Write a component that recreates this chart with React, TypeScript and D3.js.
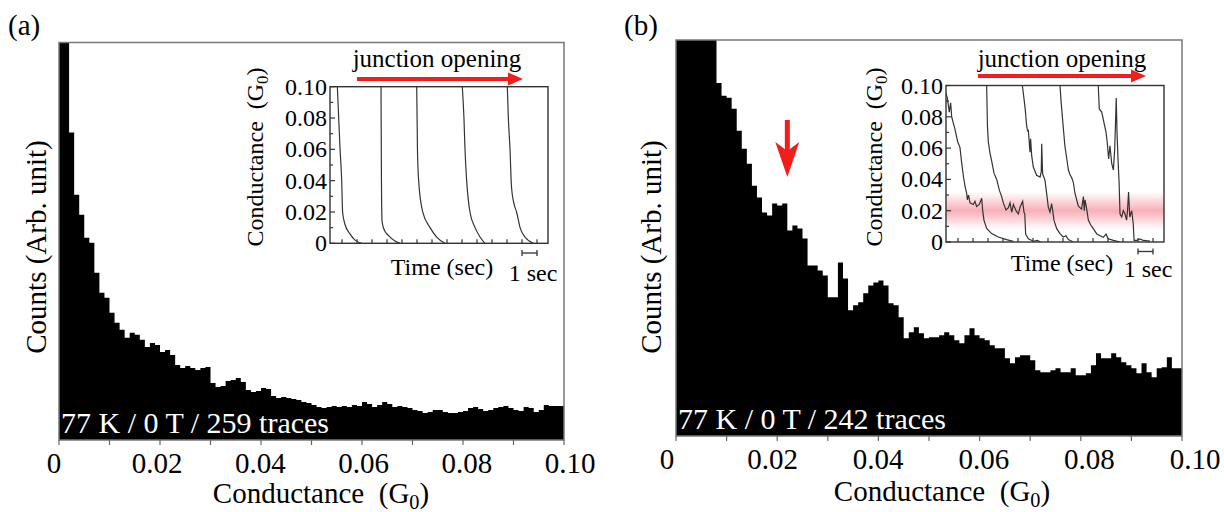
import React from "react";
import * as d3 from "d3";

// ---------- data ----------
const BIN = 0.001; // G0 per histogram bin
const countsA = [
  520, 460, 307, 245, 225, 202, 197, 167, 147, 142,
  127, 117, 110, 102, 107, 105, 100, 93, 97, 95,
  88, 90, 85, 75, 72, 74, 72, 70, 72, 73,
  57, 53, 54, 59, 60, 62, 58, 50, 48, 49,
  52, 51, 44, 42, 43, 42, 41, 40, 38, 37,
  35, 33, 32, 33, 34, 33, 34, 33, 35, 34,
  38, 36, 33, 35, 38, 36, 33, 34, 33, 32,
  30, 29, 27, 28, 30, 30, 28, 27, 27, 28,
  29, 32, 33, 31, 29, 30, 32, 33, 34, 32,
  30, 29, 33, 32, 28, 30, 35, 34, 34, 34,
];
const countsB = [
  520, 520, 510, 500, 480, 460, 440, 420, 354, 341,
  339, 328, 306, 288, 273, 251, 239, 224, 221, 233,
  231, 233, 206, 211, 208, 198, 171, 171, 166, 161,
  139, 139, 174, 158, 126, 131, 134, 143, 151, 154,
  156, 151, 133, 131, 119, 98, 104, 109, 103, 98,
  99, 99, 101, 104, 101, 96, 93, 101, 108, 101,
  98, 96, 91, 88, 88, 78, 73, 79, 81, 81,
  76, 66, 64, 64, 66, 68, 64, 64, 68, 61,
  61, 63, 71, 83, 78, 78, 83, 79, 74, 71,
  68, 63, 73, 64, 59, 68, 69, 79, 68, 68,
];
const xTickLabels = ["0", "0.02", "0.04", "0.06", "0.08", "0.10"];
const insetYLabels = ["0", "0.02", "0.04", "0.06", "0.08", "0.10"];
const summaryA = "77 K / 0 T / 259 traces";
const summaryB = "77 K / 0 T / 242 traces";
const markedPeakB = 0.022;

// inset traces: [time (s), conductance (G0)]
const tracesA: [number, number][][] = [
  [[0.69, 0.1], [0.87, 0.06], [0.98, 0.04], [1.04, 0.02], [1.2, 0.012], [1.53, 0.006], [1.87, 0.002], [2.31, 0]],
  [[3.6, 0.1], [3.63, 0.04], [3.67, 0.014], [3.8, 0.009], [4.09, 0.005], [4.53, 0.0015], [4.87, 0]],
  [[5.98, 0.1], [6.03, 0.06], [6.11, 0.04], [6.38, 0.02], [6.87, 0.01], [7.31, 0.004], [7.87, 0]],
  [[9.02, 0.1], [9.13, 0.08], [9.2, 0.06], [9.31, 0.04], [9.53, 0.02], [9.87, 0.01], [10.2, 0.004], [10.53, 0]],
  [[12.02, 0.1], [12.09, 0.08], [12.2, 0.06], [12.3, 0.036], [12.5, 0.024], [12.64, 0.02], [12.87, 0.01], [13.2, 0.004], [13.76, 0]],
];
const tracesB: [number, number][][] = [
  [[0.2, 0.095], [0.29, 0.092], [0.42, 0.083], [0.51, 0.089], [0.58, 0.08], [0.8, 0.072], [0.98, 0.064], [1.13, 0.0605], [1.24, 0.051], [1.36, 0.042], [1.47, 0.0356], [1.58, 0.031], [1.62, 0.027], [1.7, 0.03], [1.8, 0.025], [2.02, 0.024], [2.13, 0.026], [2.24, 0.0227], [2.42, 0.024], [2.58, 0.028], [2.64, 0.0205], [2.73, 0.014], [2.91, 0.0086], [3.24, 0.0054], [3.69, 0.0032], [4.24, 0.0015], [4.69, 0.0004]],
  [[2.91, 0.1], [2.96, 0.075], [3.02, 0.064], [3.13, 0.057], [3.24, 0.052], [3.4, 0.044], [3.58, 0.04], [3.76, 0.033], [3.91, 0.029], [4.02, 0.025], [4.2, 0.0205], [4.36, 0.022], [4.47, 0.025], [4.58, 0.019], [4.69, 0.024], [4.87, 0.02], [5.02, 0.018], [5.13, 0.022], [5.31, 0.026], [5.4, 0.019], [5.45, 0.018], [5.51, 0.005], [5.69, 0.002], [6.02, 0.0005], [6.3, 0.001], [6.5, 0]],
  [[5.29, 0.1], [5.47, 0.086], [5.58, 0.074], [5.64, 0.071], [5.69, 0.0713], [5.8, 0.0574], [5.84, 0.066], [5.91, 0.0553], [6.02, 0.0479], [6.24, 0.0426], [6.47, 0.0415], [6.55, 0.045], [6.58, 0.0628], [6.64, 0.0436], [6.8, 0.0394], [6.91, 0.0309], [7.02, 0.0223], [7.13, 0.0191], [7.24, 0.0245], [7.31, 0.0202], [7.4, 0.0138], [7.58, 0.0085], [7.8, 0.0053], [8.02, 0.0032], [8.2, 0.004], [8.36, 0.0015], [8.69, 0]],
  [[7.8, 0.1], [7.87, 0.09], [8.02, 0.073], [8.13, 0.061], [8.24, 0.054], [8.36, 0.046], [8.47, 0.043], [8.58, 0.041], [8.69, 0.038], [8.8, 0.031], [8.91, 0.027], [9.02, 0.023], [9.13, 0.022], [9.24, 0.021], [9.36, 0.029], [9.42, 0.02], [9.47, 0.027], [9.58, 0.021], [9.69, 0.014], [9.84, 0.011], [10.02, 0.0085], [10.24, 0.0053], [10.47, 0.004], [10.69, 0.003], [10.87, 0.005], [11.02, 0.002], [11.36, 0.001], [11.8, 0]],
  [[10.35, 0.1], [10.42, 0.085], [10.58, 0.083], [10.87, 0.07], [10.96, 0.0626], [11.04, 0.053], [11.13, 0.0615], [11.25, 0.05], [11.36, 0.046], [11.45, 0.06], [11.55, 0.092], [11.6, 0.07], [11.68, 0.05], [11.74, 0.038], [11.8, 0.018], [11.91, 0.016], [12.02, 0.02], [12.13, 0.018], [12.24, 0.014], [12.3, 0.02], [12.37, 0.032], [12.45, 0.016], [12.58, 0.02], [12.68, 0.012], [12.74, 0.001], [12.91, 0.001], [13.13, 0.002], [13.36, 0.001], [13.8, 0.0005]],
];

// ---------- layout ----------
const FONT = "Liberation Serif";
const RED = "#f21d1d";

type PanelCfg = {
  label: string; labelX: number;
  x0: number; x1: number; yb: number; yt: number;
  lblL: number; lblR: number; tickBase: number;
  xTitleX: number; xTitleY: number; yTitleX: number;
  ix0: number; ix1: number; iyb: number; iyt: number;
  jX0: number; jX1: number; jTextX: number; jArrowY: number;
  timeX: number; timeY: number; secX: number; secY: number; barY: number;
  iTitleX: number;
};

const PA: PanelCfg = {
  label: "(a)", labelX: 8,
  x0: 59, x1: 564, yb: 440, yt: 42.5,
  lblL: 54, lblR: 570, tickBase: 473,
  xTitleX: 321, xTitleY: 503, yTitleX: 36,
  ix0: 330, ix1: 548, iyb: 243.3, iyt: 86.7,
  jX0: 357, jX1: 523, jTextX: 437, jArrowY: 79,
  timeX: 442, timeY: 275, secX: 533, secY: 281, barY: 253,
  iTitleX: 263,
};
const PB: PanelCfg = {
  label: "(b)", labelX: 624,
  x0: 676, x1: 1182, yb: 436, yt: 40,
  lblL: 667, lblR: 1195, tickBase: 469,
  xTitleX: 942, xTitleY: 501, yTitleX: 651,
  ix0: 946, ix1: 1164, iyb: 242, iyt: 85.5,
  jX0: 978, jX1: 1146, jTextX: 1062, jArrowY: 76,
  timeX: 1062, timeY: 271, secX: 1148, secY: 277, barY: 251.5,
  iTitleX: 882,
};

function G0Title({ x, y, size, rotate }: { x: number; y: number; size: number; rotate?: boolean }) {
  const sub = size * 0.7;
  return (
    <text
      x={x} y={y} fontSize={size} textAnchor="middle" fill="#000"
      transform={rotate ? `rotate(-90 ${x} ${y})` : undefined}
      style={{ whiteSpace: "pre", fontFamily: FONT }}
    >
      <tspan>{"Conductance  (G"}</tspan>
      <tspan fontSize={sub} dy={size * 0.2}>0</tspan>
      <tspan dy={-size * 0.2}>)</tspan>
    </text>
  );
}

function Panel({ p, counts, traces, summary, id, band, peak }: {
  p: PanelCfg; counts: number[]; traces: [number, number][][]; summary: string; id: string; band?: boolean; peak?: number;
}) {
  const x = d3.scaleLinear().domain([0, 0.1]).range([p.x0, p.x1]);
  const xl = d3.scaleLinear().domain([0, 0.1]).range([p.lblL, p.lblR]);
  const y = d3.scaleLinear().domain([0, 397]).range([p.yb, p.yt]);
  const data = [...counts, counts[counts.length - 1]];
  const area = d3.area<number>()
    .x((_, i) => x(i * BIN))
    .y0(y(0))
    .y1((d) => y(d))
    .curve(d3.curveStepAfter);

  const ix = d3.scaleLinear().domain([0.2, 14.733]).range([p.ix0, p.ix1]);
  const iy = d3.scaleLinear().domain([0, 0.1]).range([p.iyb, p.iyt]);
  const line = d3.line<[number, number]>()
    .x((d) => ix(d[0]))
    .y((d) => iy(d[1]))
    .curve(band ? d3.curveLinear : d3.curveMonotoneX);

  const xTicks = x.ticks(10);
  const iyTicks = iy.ticks(10);
  const itTicks = d3.range(1, 15);
  const majorIdx = (v: number) => Math.round(v * 100) % 2 === 0;
  const tf = { fontFamily: FONT };

  return (
    <g>
      <defs>
        <clipPath id={`clip-${id}`}>
          <rect x={p.x0} y={p.yt} width={p.x1 - p.x0} height={p.yb - p.yt} />
        </clipPath>
        <clipPath id={`iclip-${id}`}>
          <rect x={p.ix0} y={p.iyt} width={p.ix1 - p.ix0} height={p.iyb - p.iyt} />
        </clipPath>
        <linearGradient id={`band-${id}`} x1="0" y1="0" x2="0" y2="1">
          <stop offset="0" stopColor="#f26d7d" stopOpacity={0} />
          <stop offset="0.5" stopColor="#f26d7d" stopOpacity={0.55} />
          <stop offset="1" stopColor="#f26d7d" stopOpacity={0} />
        </linearGradient>
      </defs>

      {/* panel label */}
      <text x={p.labelX} y={35} fontSize={29} style={tf}>{p.label}</text>

      {/* histogram */}
      <path d={area(data) || ""} fill="#000" clipPath={`url(#clip-${id})`} />
      <rect x={p.x0} y={p.yt} width={p.x1 - p.x0} height={p.yb - p.yt} fill="none" stroke="#777" strokeWidth={1.5} />

      {/* x ticks */}
      {xTicks.map((v) => (
        <line key={v} x1={x(v)} x2={x(v)} y1={p.yb} y2={p.yb + 5} stroke="#666" strokeWidth={1.2} />
      ))}
      {xTicks.filter(majorIdx).map((v, i) => (
        <text key={v} x={xl(v)} y={p.tickBase} fontSize={29} style={tf} textAnchor="middle">
          {xTickLabels[i]}
        </text>
      ))}

      <G0Title x={p.xTitleX} y={p.xTitleY} size={29} />
      <text
        x={p.yTitleX} y={247} fontSize={29} style={tf} textAnchor="middle" dominantBaseline="central"
        transform={`rotate(-90 ${p.yTitleX} 247)`}
      >
        Counts (Arb. unit)
      </text>

      <text x={p.x0 + 2} y={p.yb - 7} fontSize={30} style={tf} fill="#fff">{summary}</text>

      {peak !== undefined && (
        <g fill={RED}>
          <rect x={x(peak) - 2.5} y={120} width={5} height={32} />
          <path d={`M${x(peak)},177 L${x(peak) - 12},142 L${x(peak)},151 L${x(peak) + 12},142 Z`} />
        </g>
      )}

      {/* inset */}
      {band && (
        <rect x={p.ix0} y={iy(0.032)} width={p.ix1 - p.ix0} height={iy(0.008) - iy(0.032)} fill={`url(#band-${id})`} />
      )}
      <g clipPath={`url(#iclip-${id})`}>
        {traces.map((t, i) => (
          <path key={i} d={line(t) || ""} fill="none" stroke="#333" strokeWidth={1.2} />
        ))}
      </g>
      <rect x={p.ix0} y={p.iyt} width={p.ix1 - p.ix0} height={p.iyb - p.iyt} fill="none" stroke="#333" strokeWidth={1.4} />
      {iyTicks.map((v) => (
        <line key={v} x1={p.ix0} x2={p.ix0 + (majorIdx(v) ? 5 : 3)} y1={iy(v)} y2={iy(v)} stroke="#333" strokeWidth={1.2} />
      ))}
      {itTicks.map((v) => (
        <line key={v} x1={ix(v)} x2={ix(v)} y1={p.iyb} y2={p.iyb - 4} stroke="#333" strokeWidth={1.2} />
      ))}
      {iyTicks.filter(majorIdx).map((v, i) => (
        <text key={v} x={p.ix0 - 3} y={iy(v)} fontSize={24} style={tf} textAnchor="end" dominantBaseline="central">
          {insetYLabels[i]}
        </text>
      ))}
      <G0Title x={p.iTitleX} y={157} size={24} rotate />

      <text x={p.timeX} y={p.timeY} fontSize={24} style={tf} textAnchor="middle">Time (sec)</text>
      <text x={p.secX} y={p.secY} fontSize={24} style={tf} textAnchor="middle">1 sec</text>
      <g stroke="#333" strokeWidth={1.3}>
        <line x1={ix(13)} x2={ix(14)} y1={p.barY} y2={p.barY} />
        <line x1={ix(13)} x2={ix(13)} y1={p.barY - 3} y2={p.barY + 3} />
        <line x1={ix(14)} x2={ix(14)} y1={p.barY - 3} y2={p.barY + 3} />
      </g>

      <text x={p.jTextX} y={67} fontSize={25} style={tf} textAnchor="middle">junction opening</text>
      <line x1={p.jX0} x2={p.jX1 - 12} y1={p.jArrowY} y2={p.jArrowY} stroke={RED} strokeWidth={4} />
      <path d={`M${p.jX1},${p.jArrowY} L${p.jX1 - 15},${p.jArrowY - 6.5} L${p.jX1 - 15},${p.jArrowY + 6.5} Z`} fill={RED} />
    </g>
  );
}

export default function App() {
  return (
    <svg width={1224} height={512} style={{ position: "absolute", left: 0, top: 0, background: "#fff", fontFamily: FONT }}>
      <rect x={0} y={0} width={1224} height={512} fill="#fff" />
      <Panel p={PA} counts={countsA} traces={tracesA} summary={summaryA} id="a" />
      <Panel p={PB} counts={countsB} traces={tracesB} summary={summaryB} id="b" band peak={markedPeakB} />
    </svg>
  );
}
